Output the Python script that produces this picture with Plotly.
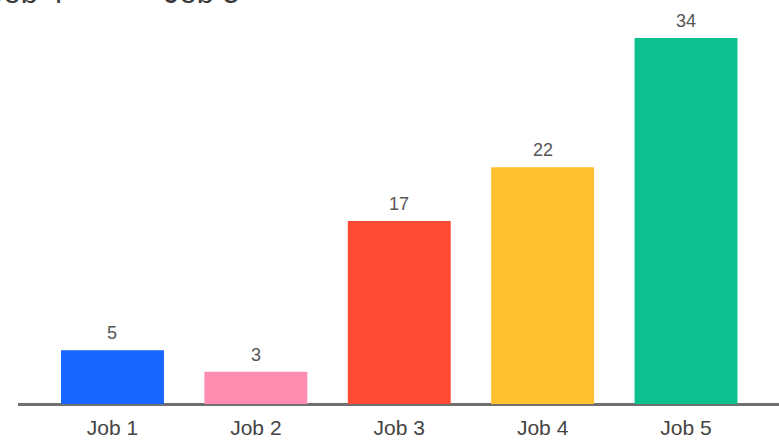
import plotly.graph_objects as go

categories = ["Job 1", "Job 2", "Job 3", "Job 4", "Job 5"]
values = [5, 3, 17, 22, 34]
colors = ["#1766FF", "#FF8DB2", "#FF4B35", "#FFC12F", "#0DC18E"]
legend_top = ["Job 4", "Job 5"]

W, H = 779, 443
L, R, T, B = 18, 0, 20, 39
plot_w = W - L - R
plot_h = H - T - B

fig = go.Figure()
fig.add_trace(go.Bar(
    x=categories, y=values, marker=dict(color=colors, line=dict(width=0)),
    hoverinfo="x+y",
))

for c, v in zip(categories, values):
    fig.add_annotation(x=c, y=v, text=str(v), showarrow=False, yanchor="bottom",
                       yshift=5, font=dict(size=18, color="#555555",
                                           family="Liberation Sans, Arial"))

# cropped legend-like labels at the very top
def px_x(p):
    return (p - L) / plot_w

def px_y(p):
    return (H - B - p) / plot_h

fig.add_annotation(xref="paper", yref="paper", x=px_x(66), y=px_y(12),
                   text=legend_top[0], showarrow=False, xanchor="right", yanchor="bottom",
                   font=dict(size=31, color="#3a3a3a", family="Liberation Sans, Arial"))
fig.add_annotation(xref="paper", yref="paper", x=px_x(162), y=px_y(12),
                   text=legend_top[1], showarrow=False, xanchor="left", yanchor="bottom",
                   font=dict(size=31, color="#3a3a3a", family="Liberation Sans, Arial"))

fig.update_layout(
    width=W, height=H,
    margin=dict(l=L, r=R, t=T, b=B, pad=0),
    paper_bgcolor="white", plot_bgcolor="white",
    bargap=0.282,
    showlegend=False,
    xaxis=dict(range=[-0.659, 4.6485], showgrid=False, zeroline=False,
               showline=False, ticks="outside", ticklen=5, tickcolor="rgba(0,0,0,0)",
               tickfont=dict(size=21, color="#444444", family="Liberation Sans, Arial"),
               fixedrange=True),
    yaxis=dict(range=[0, 35.67], showgrid=False, zeroline=True, zerolinecolor="#707070",
               zerolinewidth=3, showticklabels=False, showline=False, fixedrange=True),
)

fig.write_html("out.html")
